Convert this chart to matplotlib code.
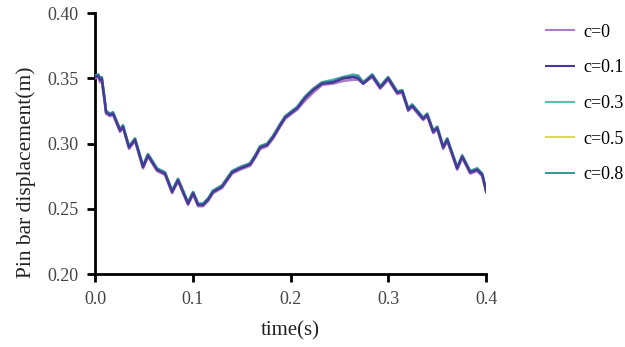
import matplotlib
matplotlib.use("Agg")
import matplotlib.pyplot as plt
from matplotlib.ticker import FormatStrFormatter

plt.rcParams['font.family'] = ['Liberation Serif', 'DejaVu Serif']

# time samples (s)
t = [0.000, 0.0034, 0.0051, 0.0069, 0.0102, 0.0113, 0.0153, 0.0184, 0.0256, 0.0286,
     0.0348, 0.0409, 0.0491, 0.0542, 0.0634, 0.0716, 0.0788, 0.0849, 0.0951, 0.1003,
     0.1054, 0.1105, 0.1156, 0.1207, 0.1299, 0.1402, 0.1483, 0.1586, 0.1637, 0.1688,
     0.1760, 0.1821, 0.1893, 0.1944, 0.1995, 0.2066, 0.2148, 0.2230, 0.2322, 0.2435,
     0.2537, 0.2639, 0.2691, 0.2742, 0.2834, 0.2916, 0.2997, 0.3090, 0.3141, 0.3202,
     0.3243, 0.3355, 0.3396, 0.3458, 0.3499, 0.3560, 0.3601, 0.3703, 0.3754, 0.3836,
     0.3908, 0.3959, 0.4000]

# pin bar displacement (m) for each damping value
c0 = [0.350, 0.351, 0.347, 0.349, 0.330, 0.323, 0.321, 0.322, 0.309, 0.312,
      0.296, 0.302, 0.281, 0.290, 0.279, 0.276, 0.262, 0.271, 0.253, 0.261,
      0.252, 0.252, 0.256, 0.262, 0.266, 0.277, 0.280, 0.283, 0.289, 0.296,
      0.298, 0.304, 0.313, 0.319, 0.322, 0.326, 0.333, 0.339, 0.345, 0.346,
      0.348, 0.349, 0.349, 0.346, 0.351, 0.342, 0.349, 0.338, 0.339, 0.325,
      0.328, 0.318, 0.321, 0.308, 0.311, 0.296, 0.302, 0.280, 0.289, 0.277,
      0.279, 0.275, 0.263]
c01 = [0.351, 0.352, 0.349, 0.350, 0.331, 0.324, 0.322, 0.323, 0.310, 0.313,
       0.297, 0.303, 0.282, 0.291, 0.280, 0.277, 0.263, 0.272, 0.254, 0.262,
       0.253, 0.253, 0.257, 0.263, 0.267, 0.278, 0.281, 0.284, 0.290, 0.297,
       0.299, 0.305, 0.314, 0.320, 0.323, 0.327, 0.335, 0.341, 0.346, 0.347,
       0.350, 0.351, 0.350, 0.346, 0.352, 0.343, 0.350, 0.339, 0.340, 0.326,
       0.329, 0.319, 0.322, 0.309, 0.312, 0.297, 0.303, 0.281, 0.290, 0.278,
       0.280, 0.276, 0.263]
c03 = [0.352, 0.353, 0.350, 0.351, 0.332, 0.325, 0.323, 0.324, 0.311, 0.314,
       0.298, 0.304, 0.283, 0.292, 0.281, 0.278, 0.264, 0.273, 0.255, 0.263,
       0.254, 0.254, 0.258, 0.264, 0.268, 0.279, 0.282, 0.285, 0.291, 0.298,
       0.300, 0.306, 0.315, 0.321, 0.324, 0.328, 0.336, 0.342, 0.347, 0.349,
       0.351, 0.353, 0.352, 0.347, 0.353, 0.344, 0.351, 0.340, 0.341, 0.327,
       0.330, 0.320, 0.323, 0.310, 0.313, 0.298, 0.304, 0.282, 0.291, 0.279,
       0.281, 0.277, 0.264]
c05 = [0.351, 0.352, 0.349, 0.350, 0.331, 0.324, 0.322, 0.323, 0.310, 0.313,
       0.297, 0.303, 0.282, 0.291, 0.280, 0.277, 0.263, 0.272, 0.254, 0.262,
       0.253, 0.253, 0.257, 0.263, 0.267, 0.278, 0.281, 0.284, 0.290, 0.296,
       0.298, 0.304, 0.313, 0.320, 0.323, 0.327, 0.334, 0.340, 0.346, 0.348,
       0.350, 0.352, 0.351, 0.346, 0.352, 0.343, 0.350, 0.339, 0.340, 0.326,
       0.329, 0.319, 0.322, 0.309, 0.312, 0.297, 0.303, 0.281, 0.290, 0.278,
       0.280, 0.276, 0.263]
c08 = [0.352, 0.353, 0.350, 0.351, 0.332, 0.325, 0.323, 0.324, 0.311, 0.314,
       0.298, 0.304, 0.283, 0.292, 0.281, 0.278, 0.264, 0.273, 0.255, 0.263,
       0.254, 0.254, 0.258, 0.264, 0.268, 0.279, 0.282, 0.285, 0.291, 0.298,
       0.300, 0.306, 0.315, 0.321, 0.324, 0.328, 0.336, 0.342, 0.347, 0.348,
       0.351, 0.352, 0.352, 0.347, 0.353, 0.344, 0.351, 0.340, 0.341, 0.327,
       0.330, 0.320, 0.323, 0.310, 0.313, 0.298, 0.304, 0.282, 0.291, 0.279,
       0.281, 0.277, 0.264]

labels = ['c=0', 'c=0.1', 'c=0.3', 'c=0.5', 'c=0.8']
series = [c0, c01, c03, c05, c08]
colors = ['#b07cc6', '#463896', '#5cc0b0', '#d8d860', '#3a9a9a']
zorders = [3, 6, 4, 2, 5]

fig = plt.figure(figsize=(6.25, 3.47), dpi=100)
ax = fig.add_axes([0.152, 0.21, 0.626, 0.752])

handles = []
for y, lab, col, z in zip(series, labels, colors, zorders):
    ln, = ax.plot(t, y, color=col, lw=1.8, zorder=z, label=lab)
    handles.append(ln)

ax.set_xlim(0, 0.4)
ax.set_ylim(0.20, 0.40)
ax.set_xticks([0.0, 0.1, 0.2, 0.3, 0.4])
ax.set_yticks([0.20, 0.25, 0.30, 0.35, 0.40])
ax.xaxis.set_major_formatter(FormatStrFormatter('%.1f'))
ax.yaxis.set_major_formatter(FormatStrFormatter('%.2f'))

for s in ['top', 'right']:
    ax.spines[s].set_visible(False)
for s in ['left', 'bottom']:
    ax.spines[s].set_linewidth(2)
ax.tick_params(direction='out', length=6, width=2, labelsize=13, labelcolor='#444444', pad=6)

ax.set_xlabel('time(s)', fontsize=15, color='#222222', labelpad=10)
ax.set_ylabel('Pin bar displacement(m)', fontsize=15.5, color='#222222', labelpad=6)
ax.yaxis.set_label_coords(-0.15, 0.39)

leg = fig.legend(handles, labels, loc='upper left', bbox_to_anchor=(0.868, 0.942),
                 frameon=False, fontsize=13, handlelength=1.55, labelspacing=1.03,
                 handletextpad=0.5, borderpad=0.2, borderaxespad=0.0)
for lh in leg.get_lines():
    lh.set_linewidth(1.5)

fig.savefig('out.png', dpi=100)
